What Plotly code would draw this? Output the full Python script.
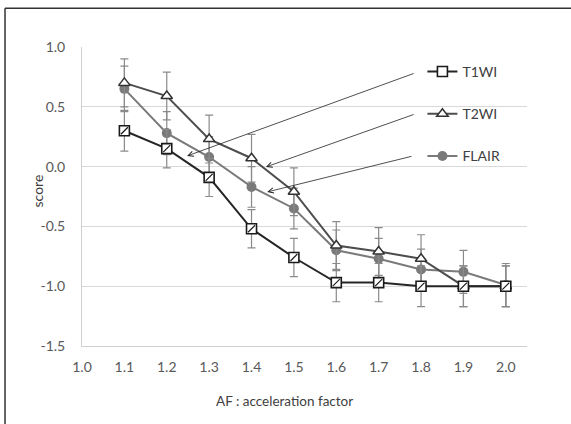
import plotly.graph_objects as go

af = [1.1, 1.2, 1.3, 1.4, 1.5, 1.6, 1.7, 1.8, 1.9, 2.0]
t1wi = [0.30, 0.15, -0.09, -0.52, -0.76, -0.97, -0.97, -1.00, -1.00, -1.00]
t1wi_err = [0.17, 0.16, 0.16, 0.16, 0.16, 0.16, 0.16, 0.17, 0.17, 0.17]
t2wi = [0.70, 0.59, 0.23, 0.07, -0.21, -0.66, -0.71, -0.77, -1.00, -1.00]
t2wi_err = [0.20, 0.20, 0.20, 0.20, 0.20, 0.20, 0.20, 0.20, 0.17, 0.17]
flair = [0.65, 0.28, 0.08, -0.17, -0.35, -0.70, -0.77, -0.86, -0.88, -0.99]
flair_err = [0.19, 0.18, 0.17, 0.17, 0.17, 0.17, 0.17, 0.17, 0.18, 0.18]

x_ticks = [1.0, 1.1, 1.2, 1.3, 1.4, 1.5, 1.6, 1.7, 1.8, 1.9, 2.0]
x_ticklabels = ["1.0", "1.1", "1.2", "1.3", "1.4", "1.5", "1.6", "1.7", "1.8", "1.9", "2.0"]
y_ticks = [1.0, 0.5, 0.0, -0.5, -1.0, -1.5]
y_ticklabels = ["1.0", "0.5", "0.0", "-0.5", "-1.0", "-1.5"]

FONT = "Lato, 'Open Sans', sans-serif"
ERR_COLOR = "#8a8a8a"

fig = go.Figure()

def err(vals):
    return dict(type="data", array=vals, color=ERR_COLOR, thickness=1.2, width=4, visible=True)

fig.add_trace(go.Scatter(
    x=af, y=flair, name="FLAIR", mode="lines+markers", legendgroup="c", legendrank=3,
    line=dict(color="#7a7a7a", width=2),
    marker=dict(symbol="circle", size=10, color="#7a7a7a"),
    error_y=err(flair_err)))
fig.add_trace(go.Scatter(
    x=af, y=t2wi, name="T2WI", mode="lines+markers", legendgroup="b", legendrank=2,
    line=dict(color="#4d4d4d", width=2),
    marker=dict(symbol="triangle-up", size=10, color="white", line=dict(color="#333333", width=1.5)),
    error_y=err(t2wi_err)))
fig.add_trace(go.Scatter(
    x=af, y=t1wi, name="T1WI", mode="lines+markers", legendgroup="a", legendrank=1,
    line=dict(color="#262626", width=2),
    marker=dict(symbol="square", size=10, color="white", line=dict(color="#1a1a1a", width=1.6)),
    error_y=err(t1wi_err)))
fig.add_trace(go.Scatter(
    x=af, y=t1wi, mode="markers", showlegend=False, hoverinfo="skip",
    marker=dict(symbol="line-ne", size=7, color="#1a1a1a", line=dict(color="#1a1a1a", width=1.2))))

# arrows from legend entries toward the lines
arrows = [
    (1.786, 0.783, 1.248, 0.089),
    (1.786, 0.440, 1.434, -0.003),
    (1.781, 0.089, 1.437, -0.212),
]
for ax0, ay0, x1, y1 in arrows:
    fig.add_annotation(x=x1, y=y1, ax=ax0, ay=ay0, xref="x", yref="y", axref="x", ayref="y",
                       showarrow=True, arrowhead=5, arrowsize=1.3, arrowwidth=0.8,
                       arrowcolor="#222222", text="")

fig.add_annotation(text="score", xref="paper", yref="paper", x=-0.099, y=0.52,
                   xanchor="center", yanchor="middle",
                   textangle=-90, showarrow=False,
                   font=dict(family=FONT, size=14, color="#404040"))
fig.add_annotation(text="AF : acceleration factor", xref="paper", yref="paper", x=0.456, y=-0.184,
                   xanchor="center", yanchor="middle",
                   showarrow=False, font=dict(family=FONT, size=13.5, color="#404040"))

# image border (left and top)
fig.add_shape(type="line", xref="paper", yref="paper", x0=-0.173, y0=-0.3, x1=-0.173, y1=1.130,
              line=dict(color="#333333", width=1.5))
fig.add_shape(type="line", xref="paper", yref="paper", x0=-0.173, y0=1.130, x1=1.2, y1=1.130,
              line=dict(color="#333333", width=1.5))

fig.update_layout(
    width=571, height=424,
    margin=dict(l=82, r=44, t=47, b=78),
    paper_bgcolor="white", plot_bgcolor="white",
    font=dict(family=FONT, size=13, color="#595959"),
    showlegend=True,
    legend=dict(x=0.765, y=0.97, xanchor="left", yanchor="top", bgcolor="rgba(0,0,0,0)",
                tracegroupgap=21, font=dict(family=FONT, size=14, color="#404040"),
                traceorder="grouped"),
    xaxis=dict(range=[1.0, 2.05], tickvals=x_ticks, ticktext=x_ticklabels, showgrid=False,
               zeroline=False, showline=True, linecolor="#d0d0d0", linewidth=1,
               ticks="", ticklabelstandoff=8, tickfont=dict(size=14, color="#595959")),
    yaxis=dict(range=[-1.5, 1.0], tickvals=y_ticks, ticktext=y_ticklabels, showgrid=True,
               gridcolor="#d9d9d9", gridwidth=1, zeroline=False, showline=True,
               linecolor="#d0d0d0", linewidth=1, ticks="", ticklabelstandoff=13,
               tickfont=dict(size=14, color="#595959")),
)

fig.write_html("out.html", config={"displayModeBar": False},
               post_script="document.body.style.margin='0';")
